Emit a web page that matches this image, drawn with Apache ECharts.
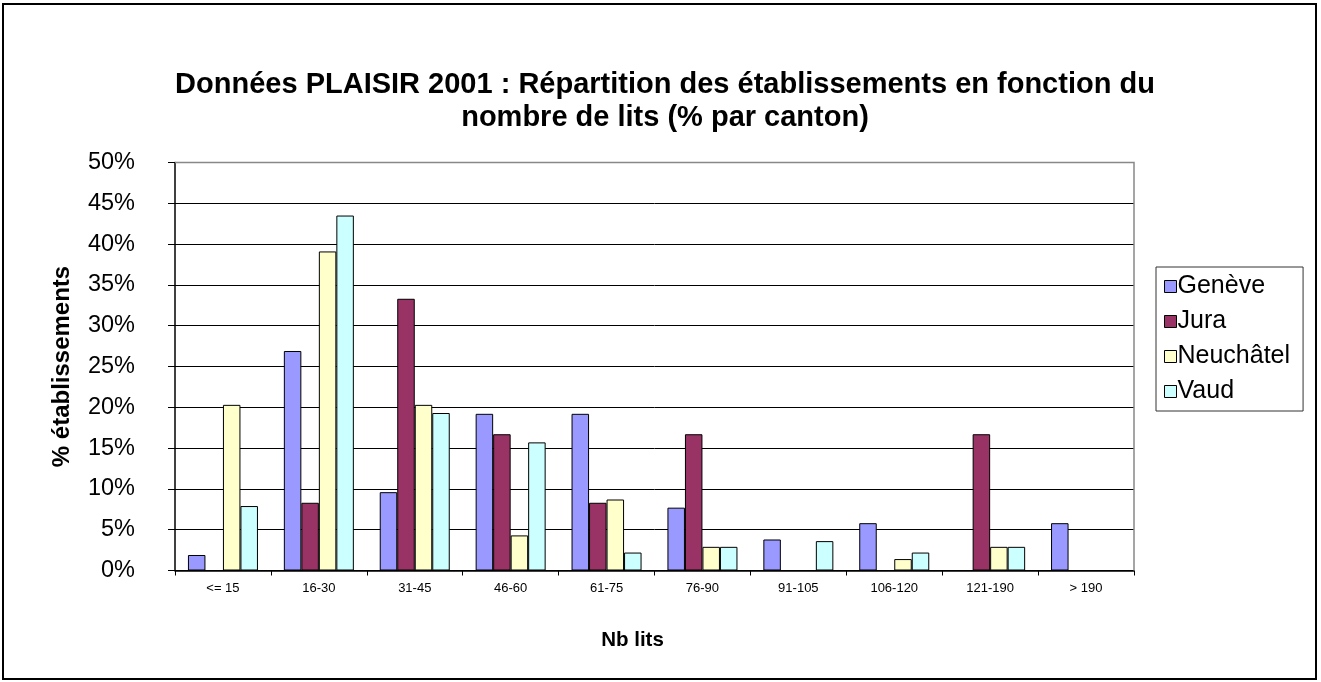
<!DOCTYPE html>
<html>
<head>
<meta charset="utf-8">
<script src="https://cdn.jsdelivr.net/npm/echarts@6/dist/echarts.min.js"></script>
<style>
html,body{margin:0;padding:0;background:#fff;}
#chart{width:1321px;height:682px;}
</style>
</head>
<body>
<div id="chart"></div>
<script>
const categories = ['<= 15','16-30','31-45','46-60','61-75','76-90','91-105','106-120','121-190','> 190'];
const geneve    = [1.9, 26.9, 9.6, 19.2, 19.2, 7.7, 3.8, 5.8, 0, 5.8];
const jura      = [0, 8.3, 33.3, 16.7, 8.3, 16.7, 0, 0, 16.7, 0];
const neuchatel = [20.3, 39.1, 20.3, 4.3, 8.7, 2.9, 0, 1.4, 2.9, 0];
const vaud      = [7.9, 43.5, 19.3, 15.7, 2.2, 2.9, 3.6, 2.2, 2.9, 0];
const yTicks = [0, 5, 10, 15, 20, 25, 30, 35, 40, 45, 50];

const FONT = '"Liberation Sans", Arial, sans-serif';
const chart = echarts.init(document.getElementById('chart'), null, {renderer:'canvas'});

function mk(name, data, color){
  return {
    name, type:'bar', data,
    barGap:'0%', barCategoryGap:'27%',
    itemStyle:{color, borderColor:'#000', borderWidth:1},
    emphasis:{disabled:true}
  };
}

const gridColors = yTicks.map((v, i) => i === yTicks.length - 1 ? '#888' : '#000');

chart.setOption({
  animation:false,
  backgroundColor:'#fff',
  title:{
    text:'Données PLAISIR 2001 : Répartition des établissements en fonction du\nnombre de lits (% par canton)',
    left:660, textAlign:'center', top:63,
    textStyle:{fontFamily:FONT, fontSize:29, fontWeight:'bold', color:'#000', lineHeight:33}
  },
  graphic:[{
    type:'rect', silent:true, z:-1,
    shape:{x:3, y:4, width:1313, height:675},
    style:{fill:'none', stroke:'#000', lineWidth:2}
  },{
    type:'polyline', silent:true, z:10,
    shape:{points:[[175,162.5],[1134,162.5],[1134,570.5]]},
    style:{fill:'none', stroke:'#888', lineWidth:1.5}
  }],
  legend:{
    orient:'vertical', left:1156, top:267,
    padding:[7, 13, 7, 8], itemGap:10,
    itemWidth:12, itemHeight:12, icon:'rect',
    borderColor:'#333', borderWidth:1,
    itemStyle:{borderColor:'#000', borderWidth:1},
    textStyle:{fontFamily:FONT, fontSize:25, lineHeight:24, color:'#000', padding:[0,0,0,-4]},
    data:['Genève','Jura','Neuchâtel','Vaud']
  },
  grid:{left:175, right:187, top:162.5, height:408, containLabel:false},
  xAxis:{
    type:'category', data:categories,
    name:'Nb lits', nameLocation:'middle', nameGap:59,
    nameTextStyle:{fontFamily:FONT, fontSize:20.5, fontWeight:'bold', color:'#000', padding:[0,44,0,0]},
    axisLine:{lineStyle:{color:'#000', width:1.5}},
    axisTick:{show:true, alignWithLabel:false, length:5, lineStyle:{color:'#000'}},
    axisLabel:{fontFamily:FONT, fontSize:13, color:'#000', margin:11}
  },
  yAxis:{
    type:'value', min:0, max:50, interval:5,
    name:'% établissements', nameLocation:'middle', nameGap:101, nameRotate:90,
    nameTextStyle:{fontFamily:FONT, fontSize:24, fontWeight:'bold', color:'#000'},
    axisLine:{show:true, lineStyle:{color:'#000', width:1.5}},
    axisTick:{show:true, inside:false, length:7, lineStyle:{color:'#000'}},
    axisLabel:{fontFamily:FONT, fontSize:23.5, color:'#000', margin:40,
      formatter:v => yTicks.includes(v) ? v + '%' : ''},
    splitLine:{show:true, lineStyle:{color:gridColors, width:1}}
  },
  series:[
    mk('Genève', geneve, '#9999FF'),
    mk('Jura', jura, '#993366'),
    mk('Neuchâtel', neuchatel, '#FFFFCC'),
    mk('Vaud', vaud, '#CCFFFF')
  ]
});
</script>
</body>
</html>
